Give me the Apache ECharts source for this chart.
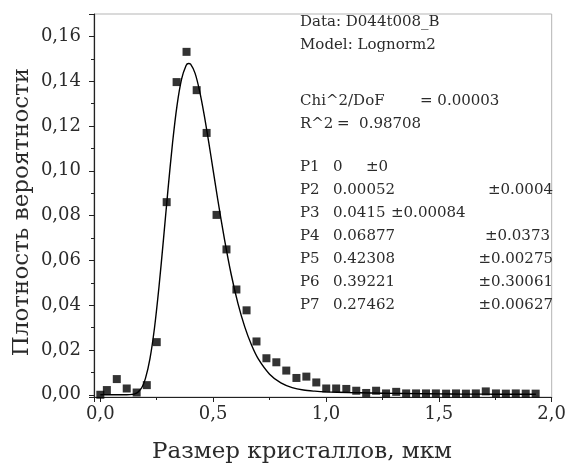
<!DOCTYPE html>
<html>
<head>
<meta charset="utf-8">
<script src="https://cdn.jsdelivr.net/npm/echarts@6/dist/echarts.min.js"></script>
<style>
  html, body { margin: 0; padding: 0; background: #fff; }
  #chart { width: 569px; height: 474px; }
</style>
</head>
<body>
<div id="chart"></div>
<script>
// measured points (bin centres, мкм)
const sizeX = [0, 0.029, 0.073, 0.117, 0.161, 0.206, 0.25, 0.294, 0.338, 0.382,
  0.427, 0.471, 0.515, 0.559, 0.603, 0.648, 0.692, 0.736, 0.78, 0.824,
  0.869, 0.913, 0.957, 1.001, 1.045, 1.09, 1.134, 1.178, 1.222, 1.266,
  1.311, 1.355, 1.399, 1.443, 1.487, 1.532, 1.576, 1.62, 1.664, 1.708,
  1.753, 1.797, 1.841, 1.885, 1.929];
const density = [0, 0.0021, 0.007, 0.0028, 0.001, 0.0043, 0.0235, 0.086, 0.1396, 0.1531,
  0.136, 0.1169, 0.0803, 0.0649, 0.047, 0.0377, 0.0238, 0.0163, 0.0145, 0.0108,
  0.0075, 0.0081, 0.0055, 0.0028, 0.0028, 0.0026, 0.0018, 0.0008, 0.0018, 0.0006,
  0.0013, 0.0006, 0.0006, 0.0006, 0.0006, 0.0005, 0.0006, 0.0005, 0.0006, 0.0015,
  0.0006, 0.0005, 0.0006, 0.0005, 0.0005];

// fitted curve
const fitX = [0, 0.05, 0.1, 0.15, 0.18, 0.2, 0.22, 0.24, 0.26, 0.28, 0.3, 0.32, 0.34, 0.36,
  0.38, 0.39, 0.4, 0.42, 0.44, 0.46, 0.48, 0.5, 0.52, 0.55, 0.58, 0.61, 0.64, 0.67, 0.7,
  0.75, 0.8, 0.85, 0.9, 0.95, 1.0, 1.1, 1.2, 1.3, 1.4, 1.5, 1.6, 1.7, 1.8, 1.93];
const fitY = [0, 0, 0, 0.0003, 0.0026, 0.0073, 0.0161, 0.0298, 0.0482, 0.0696, 0.0918, 0.1124, 0.1292, 0.1409,
  0.147, 0.1479, 0.1476, 0.1435, 0.1356, 0.1251, 0.113, 0.1002, 0.0874, 0.0695, 0.0537, 0.0407, 0.0303, 0.0222, 0.016,
  0.0092, 0.0053, 0.0032, 0.0021, 0.0016, 0.0013, 0.001, 0.0008, 0.0006, 0.0005, 0.0004, 0.0003, 0.0003, 0.0002, 0.0002];

// fit report
const headerLines = ['Data: D044t008_B', 'Model: Lognorm2'];
const paramNames = ['P1', 'P2', 'P3', 'P4', 'P5', 'P6', 'P7'];
const paramValues = ['0', '0.00052', '0.0415', '0.06877', '0.42308', '0.39221', '0.27462'];
const paramErrors = ['±0', '±0.0004', '±0.00084', '±0.0373', '±0.00275', '±0.30061', '±0.00627'];

const FONT = '"DejaVu Serif", "Liberation Serif", serif';
const TXT = '#2b2b2b';

const chart = echarts.init(document.getElementById('chart'));

function txt(x, y, text, size) {
  return {
    type: 'text',
    x: x,
    y: y,
    silent: true,
    style: {
      text: text,
      font: size + 'px ' + FONT,
      fill: TXT,
      verticalAlign: 'middle'
    }
  };
}

const graphics = [];
headerLines.forEach((s, i) => graphics.push(txt(300, 22 + i * 23, s, 15)));
graphics.push(txt(300, 101, 'Chi^2/DoF', 15));
graphics.push(txt(420, 101, '= 0.00003', 15));
graphics.push(txt(300, 124, 'R^2', 15));
graphics.push(txt(337, 124, '=  0.98708', 15));
// column for the ± part differs per row, as in the original report
const errX = [366, 553, 391, 550, 553, 553, 553];
paramNames.forEach((p, i) => {
  const y = 167 + i * 23;
  graphics.push(txt(300, y, p, 15));
  graphics.push(txt(333, y, paramValues[i], 15));
  const e = txt(errX[i], y, paramErrors[i], 15);
  if (errX[i] > 500) e.style.align = 'right';
  graphics.push(e);
});
// axis titles
const xTitle = txt(302, 452, 'Размер кристаллов, мкм', 23);
xTitle.style.align = 'center';
graphics.push(xTitle);
const yTitle = txt(22, 212, 'Плотность вероятности', 23);
yTitle.rotation = Math.PI / 2;
yTitle.style.align = 'center';
graphics.push(yTitle);

chart.setOption({
  animation: false,
  backgroundColor: '#fff',
  grid: {
    left: 94,
    right: 16,
    top: 14,
    bottom: 77,
    show: true,
    borderColor: '#b5b5b5',
    borderWidth: 1
  },
  xAxis: {
    type: 'value',
    min: -0.028,
    max: 2.0,
    minInterval: 0.5,
    maxInterval: 0.5,
    axisLine: { onZero: false, lineStyle: { color: '#222', width: 1.2 } },
    axisTick: { length: 5, lineStyle: { color: '#222' } },
    minorTick: { show: true, splitNumber: 2, length: 3, lineStyle: { color: '#222' } },
    splitLine: { show: false },
    axisLabel: {
      margin: 8,
      showMinLabel: false,
      color: TXT,
      fontFamily: FONT,
      fontSize: 18,
      formatter: v => (Math.abs(v * 2 - Math.round(v * 2)) < 1e-6 ? v.toFixed(1).replace('.', ',') : '')
    }
  },
  yAxis: {
    type: 'value',
    min: -0.001,
    max: 0.17,
    minInterval: 0.02,
    maxInterval: 0.02,
    axisLine: { onZero: false, lineStyle: { color: '#222', width: 1.2 } },
    axisTick: { length: 5, lineStyle: { color: '#222' } },
    minorTick: { show: true, splitNumber: 2, length: 3, lineStyle: { color: '#222' } },
    splitLine: { show: false },
    axisLabel: {
      margin: 13,
      showMinLabel: false,
      showMaxLabel: false,
      color: TXT,
      fontFamily: FONT,
      fontSize: 18,
      formatter: v => (Math.abs(v * 50 - Math.round(v * 50)) < 1e-6 ? v.toFixed(2).replace('.', ',') : '')
    }
  },
  graphic: graphics,
  series: [
    {
      name: 'fit',
      type: 'line',
      data: fitX.map((x, i) => [x, fitY[i]]),
      showSymbol: false,
      smooth: 0.3,
      lineStyle: { color: '#000', width: 1.4 },
      z: 2
    },
    {
      name: 'data',
      type: 'scatter',
      data: sizeX.map((x, i) => [x, density[i]]),
      symbol: 'rect',
      symbolSize: 8,
      itemStyle: { color: '#000' },
      z: 3
    }
  ]
});
</script>
</body>
</html>
